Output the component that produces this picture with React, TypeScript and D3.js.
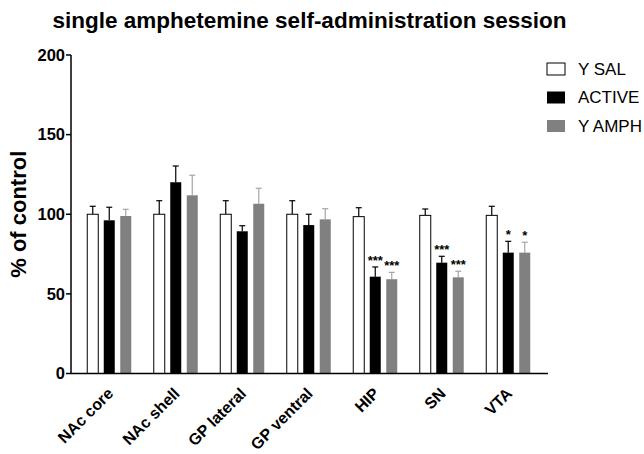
import * as d3 from "d3";

const regions = ["NAc core", "NAc shell", "GP lateral", "GP ventral", "HIP", "SN", "VTA"];
const groups = ["Y SAL", "ACTIVE", "Y AMPH"];

const ySal = [100, 100, 100, 100, 98.5, 99.3, 99.3];
const ySalErr = [5, 8.5, 8.5, 8.5, 5.6, 4, 5.7];
const active = [96.2, 120.1, 89.3, 93.2, 60.8, 69.6, 75.9];
const activeErr = [8.2, 10.2, 3.5, 6.8, 6.1, 4, 7.1];
const yAmph = [98.9, 111.9, 106.6, 96.8, 59.2, 60.4, 75.9];
const yAmphErr = [4.2, 12.6, 9.7, 6.7, 4.3, 3.8, 6.5];

const stars = [
  ["", "", ""],
  ["", "", ""],
  ["", "", ""],
  ["", "", ""],
  ["", "***", "***"],
  ["", "***", "***"],
  ["", "*", "*"],
];

const yTicks = [0, 50, 100, 150, 200];

const W = 644;
const H = 454;
const font = "'Liberation Sans', Arial, sans-serif";

const fills = ["#ffffff", "#000000", "#808080"];
const errColors = ["#000000", "#000000", "#a6a6a6"];

export default function App() {
  const y = d3.scaleLinear().domain([0, 200]).range([373.5, 55]);
  const x = d3.scaleBand().domain(regions).range([76, 541.5]).padding(0);
  const inner = d3.scaleBand().domain(groups).range([-22, 22]).paddingInner(1 / 3);
  const bw = inner.bandwidth();

  const series = [
    { name: groups[0], values: ySal, errs: ySalErr },
    { name: groups[1], values: active, errs: activeErr },
    { name: groups[2], values: yAmph, errs: yAmphErr },
  ];

  const axisX0 = 71;
  const axisX1 = 548;

  return (
    <svg
      width={W}
      height={H}
      style={{ position: "absolute", left: 0, top: 0, background: "#fff" }}
      fontFamily={font}
    >
      <text x={309.5} y={28} textAnchor="middle" fontSize={22.5} fontWeight="bold">
        single amphetemine self-administration session
      </text>

      {/* bars */}
      {series.map((s, si) => (
        <g key={s.name}>
          {s.values.map((v, i) => {
            const cx = (x(regions[i]) as number) + x.bandwidth() / 2;
            const left = cx + (inner(s.name) as number);
            const mid = left + bw / 2;
            const top = y(v);
            const errTop = y(v + s.errs[i]);
            return (
              <g key={i}>
                <line x1={mid} x2={mid} y1={top} y2={errTop} stroke={errColors[si]} strokeWidth={1.2} />
                <line x1={mid - 3} x2={mid + 3} y1={errTop} y2={errTop} stroke={errColors[si]} strokeWidth={1.2} />
                <rect
                  x={left}
                  y={top}
                  width={bw}
                  height={y(0) - top}
                  fill={fills[si]}
                  stroke={si === 0 ? "#000" : "none"}
                  strokeWidth={1}
                />
                {stars[i][si] && (
                  <text x={mid} y={errTop - 2} textAnchor="middle" fontSize={13} fontWeight="bold">
                    {stars[i][si]}
                  </text>
                )}
              </g>
            );
          })}
        </g>
      ))}

      {/* y axis */}
      <line x1={axisX0} x2={axisX0} y1={y(200)} y2={y(0)} stroke="#000" strokeWidth={1.5} />
      {yTicks.map((t) => (
        <g key={t}>
          <line x1={axisX0 - 5} x2={axisX0} y1={y(t)} y2={y(t)} stroke="#000" strokeWidth={1.5} />
          <text x={axisX0 - 6} y={y(t)} dy="0.35em" textAnchor="end" fontSize={16.5} fontWeight="bold">
            {t}
          </text>
        </g>
      ))}
      <text
        transform={`translate(26,${y(100)}) rotate(-90)`}
        textAnchor="middle"
        fontSize={22}
        fontWeight="bold"
      >
        % of control
      </text>

      {/* x axis */}
      <line x1={axisX0} x2={axisX1} y1={y(0)} y2={y(0)} stroke="#000" strokeWidth={1.5} />
      {regions.map((r) => {
        const cx = (x(r) as number) + x.bandwidth() / 2;
        return (
          <text
            key={r}
            transform={`translate(${cx + 5},${y(0) + 21}) rotate(-45)`}
            textAnchor="end"
            fontSize={16}
            fontWeight="bold"
          >
            {r}
          </text>
        );
      })}

      {/* legend */}
      {groups.map((g, i) => (
        <g key={g} transform={`translate(547,${69 + i * 28.5})`}>
          <rect x={0} y={-6} width={18} height={12} fill={fills[i]} stroke={i === 0 ? "#000" : "none"} strokeWidth={1} />
          <text x={31} y={0} dy="0.35em" fontSize={17}>
            {g}
          </text>
        </g>
      ))}
    </svg>
  );
}
